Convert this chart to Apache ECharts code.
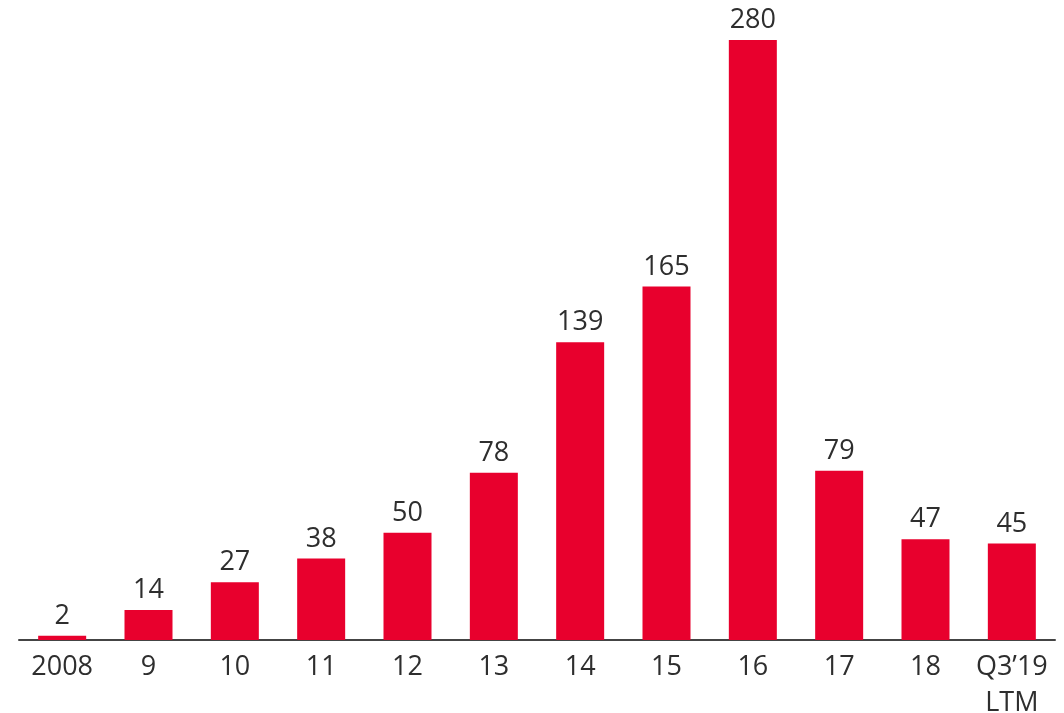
<!DOCTYPE html>
<html>
<head>
<meta charset="utf-8">
<script src="https://cdn.jsdelivr.net/npm/echarts@6/dist/echarts.min.js"></script>
<style>
  html, body { margin: 0; padding: 0; background: #ffffff; }
  #chart { width: 1064px; height: 713px; }
</style>
</head>
<body>
<div id="chart"></div>
<script>
// Annual values by year
const categories = ['2008', '9', '10', '11', '12', '13', '14', '15', '16', '17', '18', 'Q3\u201919\nLTM'];
const values = [2, 14, 27, 38, 50, 78, 139, 165, 280, 79, 47, 45];

const textColor = '#2e2e2e';
const fontFamily = '"Open Sans", "Noto Sans", sans-serif';

const chart = echarts.init(document.getElementById('chart'), null, { renderer: 'canvas' });
chart.setOption({
  animation: false,
  grid: { left: 19, right: 9, top: 40, bottom: 73, containLabel: false, outerBoundsMode: 'none' },
  xAxis: {
    type: 'category',
    data: categories,
    axisLine: { show: true, lineStyle: { color: '#444444', width: 2 } },
    axisTick: { show: false },
    axisLabel: {
      interval: 0,
      color: textColor,
      fontFamily: fontFamily,
      fontSize: 27,
      lineHeight: 36,
      margin: 9,
      verticalAlign: 'top'
    }
  },
  yAxis: {
    type: 'value',
    min: 0,
    max: 280,
    show: false,
    splitLine: { show: false }
  },
  series: [{
    type: 'bar',
    data: values,
    barWidth: 48,
    itemStyle: { color: '#e8002d' },
    label: {
      show: true,
      position: 'top',
      distance: 6,
      color: textColor,
      fontFamily: fontFamily,
      fontSize: 27
    }
  }]
});
</script>
</body>
</html>
